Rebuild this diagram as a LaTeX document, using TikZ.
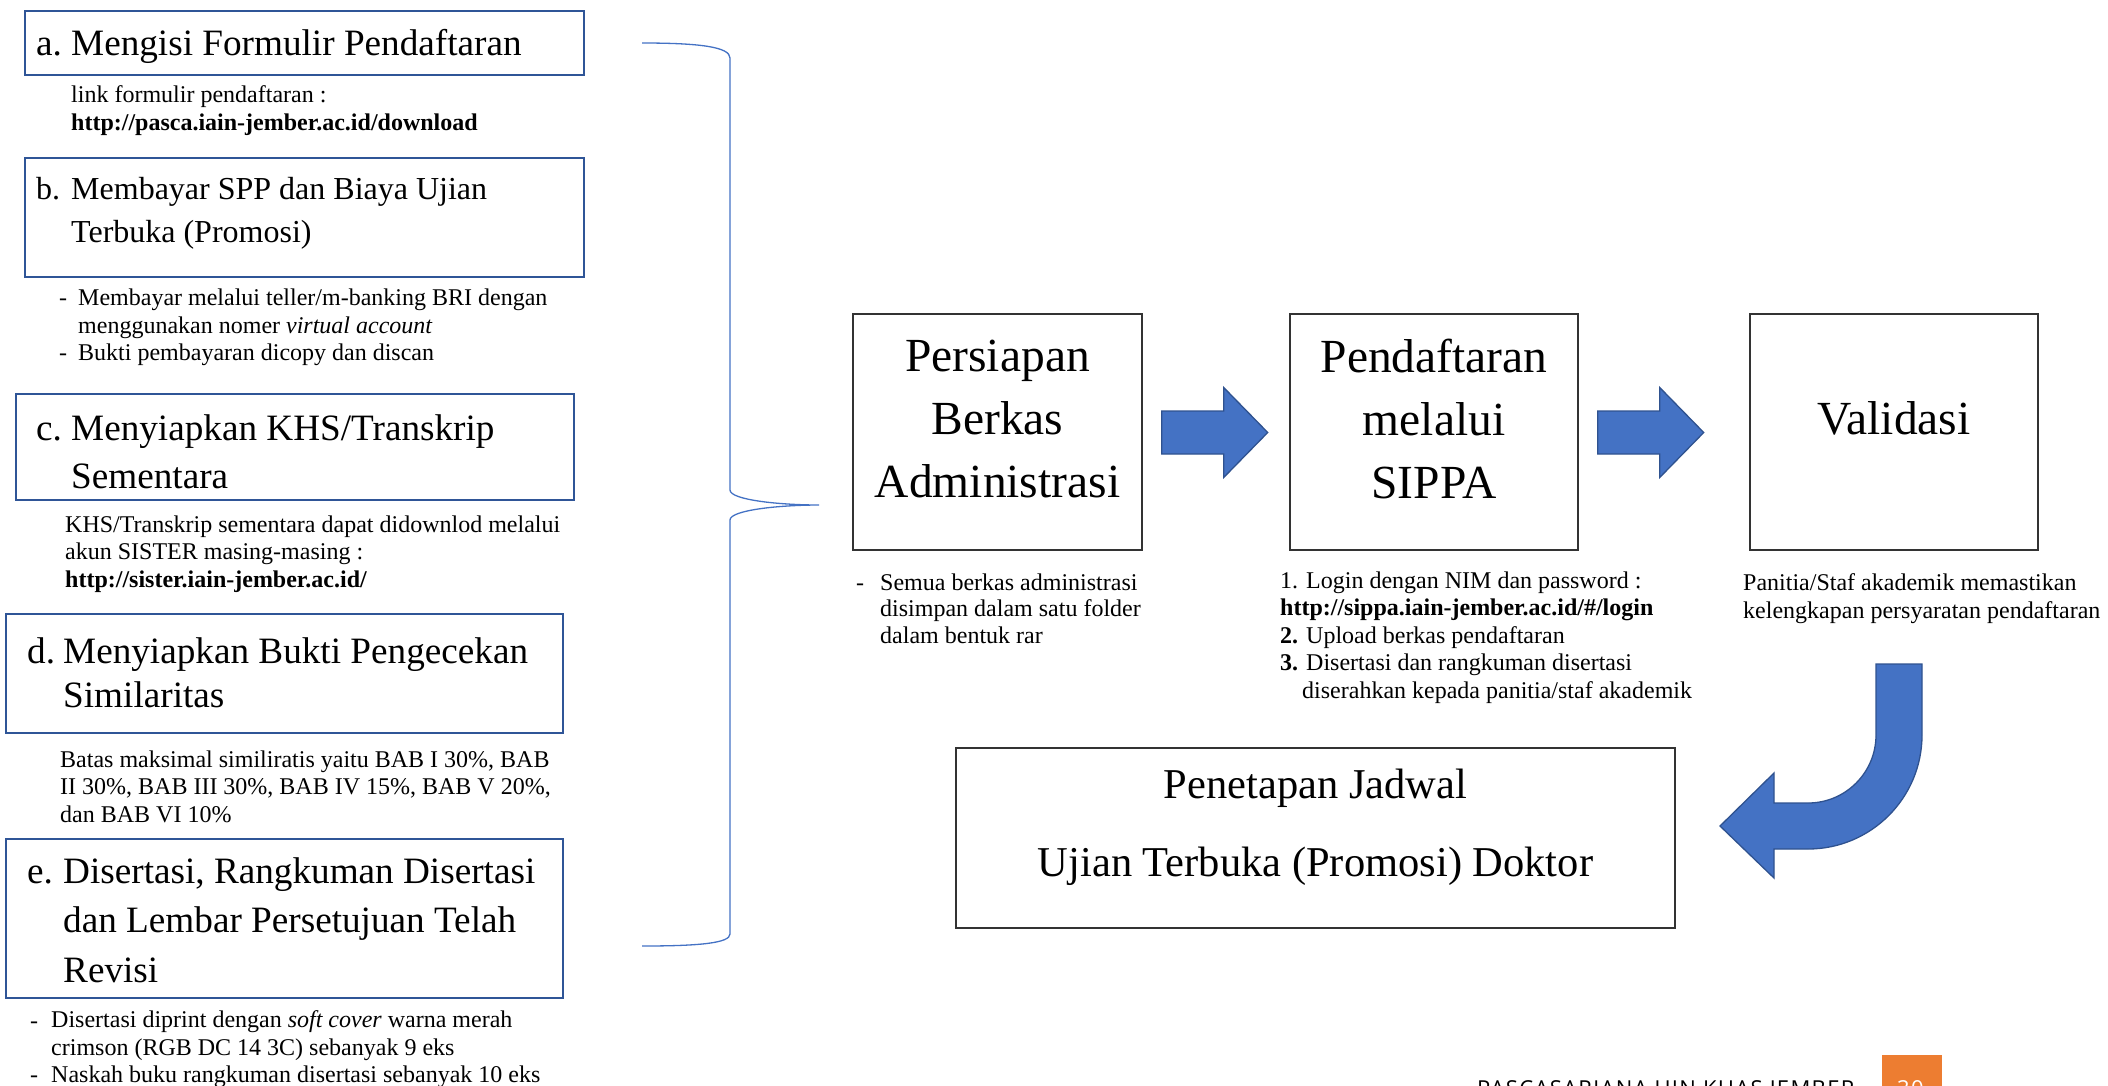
\documentclass[tikz,border=0pt]{standalone}
\usepackage{fontspec}
\setmainfont{Liberation Serif}
\newfontfamily\footfont[LetterSpace=6]{Open Sans}
\definecolor{officeblue}{HTML}{4472C4}
\definecolor{arrowedge}{HTML}{2F528F}
\definecolor{boxblue}{HTML}{2F5597}
\definecolor{footorange}{HTML}{ED7D31}
\newcommand{\listfont}[1][48]{\fontsize{37.2}{#1}\selectfont}
\newcommand{\notefont}[1][27.5]{\fontsize{24}{#1}\selectfont}
\newcommand{\stepfont}{\fontsize{47.5}{63}\selectfont}

\begin{document}
\begin{tikzpicture}[
    x=1pt, y=-1pt,
    listbox/.style={draw=boxblue, line width=2.2pt, anchor=north west, inner sep=0pt},
    listitem/.style={anchor=base west, inner sep=0pt, align=left, font=\listfont},
    note/.style={anchor=base west, inner sep=0pt, align=left, font=\notefont},
    stepbox/.style={draw=black!80, line width=1.4pt, inner sep=0pt},
    steptext/.style={anchor=base, inner sep=0pt, align=center, font=\stepfont},
    blockarrow/.style={fill=officeblue, draw=arrowedge, line width=1.3pt, line join=miter}
]
\useasboundingbox (0,0) rectangle (2108,1085);

% left column: requirements (multi-line texts sit on their last baseline)
\node[listbox, minimum width=559pt, minimum height=64pt] (boxa) at (24,10) {};
\node[listitem] (labela) at (36,55) {a.};
\node[listitem] (texta) at (71,55) {Mengisi Formulir Pendaftaran};
\node[note] (notea) at (71,130) {link formulir pendaftaran :\\\textbf{http://pasca.iain-jember.ac.id/download}};

\node[listbox, minimum width=559pt, minimum height=119pt] (boxb) at (24,157) {};
\node[listitem, font={\fontsize{32}{43}\selectfont}] (labelb) at (36,199) {b.};
\node[listitem, font={\fontsize{32}{43}\selectfont}] (textb) at (71,242) {Membayar SPP dan Biaya Ujian\\Terbuka (Promosi)};
\node[note] (dashb1) at (59,305) {-};
\node[note] (noteb1) at (78,333) {Membayar melalui teller/m-banking BRI dengan\\menggunakan nomer \textit{virtual account}};
\node[note] (dashb2) at (59,360) {-};
\node[note] (noteb2) at (78,360) {Bukti pembayaran dicopy dan discan};

\node[listbox, minimum width=558pt, minimum height=106pt] (boxc) at (15,393) {};
\node[listitem] (labelc) at (36,440) {c.};
\node[listitem] (textc) at (71,488) {Menyiapkan KHS/Transkrip\\Sementara};
\node[note] (notec) at (65,587) {KHS/Transkrip sementara dapat didownlod melalui\\akun SISTER masing-masing :\\\textbf{http://sister.iain-jember.ac.id/}};

\node[listbox, minimum width=557pt, minimum height=119pt] (boxd) at (5,613) {};
\node[listitem] (labeld) at (27,663) {d.};
\node[listitem, font={\listfont[44]}] (textd) at (63,707) {Menyiapkan Bukti Pengecekan\\Similaritas};
\node[note] (noted) at (60,822) {Batas maksimal similiratis yaitu BAB I 30\%, BAB\\II 30\%, BAB III 30\%, BAB IV 15\%, BAB V 20\%,\\dan BAB VI 10\%};

\node[listbox, minimum width=557pt, minimum height=159pt] (boxe) at (5,838) {};
\node[listitem] (labele) at (27,883) {e.};
\node[listitem, font={\listfont[49.5]}] (texte) at (63,982) {Disertasi, Rangkuman Disertasi\\dan Lembar Persetujuan Telah\\Revisi};
\node[note] (dashe1) at (30,1028) {-};
\node[note] (notee1) at (51,1055) {Disertasi diprint dengan \textit{soft cover} warna merah\\crimson (RGB DC 14 3C) sebanyak 9 eks};
\node[note] (dashe2) at (30,1082) {-};
\node[note] (notee2) at (51,1082) {Naskah buku rangkuman disertasi sebanyak 10 eks};

% brace
\draw[officeblue, line width=1.3pt] (642,43) .. controls (700,43) and (730,47) .. (730,58)
  -- (730,490) .. controls (730,500) and (780,505) .. (819,505)
  .. controls (780,505) and (730,510) .. (730,520)
  -- (730,934) .. controls (730,943) and (700,946) .. (642,946);

% right part: steps
\node[stepbox, minimum width=289pt, minimum height=236pt] (persiapan) at (997.5,432) {};
\node[steptext] (persiapantext) at ([yshift=-184pt]persiapan.north) {Persiapan\\Berkas\\Administrasi};
\node[stepbox, minimum width=288pt, minimum height=236pt] (pendaftaran) at (1434,432) {};
\node[steptext] (pendaftarantext) at ([yshift=-185pt]pendaftaran.north) {Pendaftaran\\melalui\\SIPPA};
\node[stepbox, minimum width=288pt, minimum height=236pt] (validasi) at (1894,432) {};
\node[steptext] (validasitext) at ([yshift=-121pt]validasi.north) {Validasi};
\node[stepbox, minimum width=719pt, minimum height=180pt] (penetapan) at (1315.5,838) {};
\node[steptext, font={\fontsize{42.5}{78}\selectfont}] (penetapantext) at ([yshift=-129pt]penetapan.north) {Penetapan Jadwal\\Ujian Terbuka (Promosi) Doktor};

\node[note] (dashp) at (856,590) {-};
\node[note, font={\notefont[26.5]}] (notepersiapan) at (880,643) {Semua berkas administrasi\\disimpan dalam satu folder\\dalam bentuk rar};
\node[note, font={\notefont[27.5]}] (notependaftaran) at (1280,698) {1. Login dengan NIM dan password :\\\textbf{http://sippa.iain-jember.ac.id/\#/login}\\\textbf{2.} Upload berkas pendaftaran\\\textbf{3.} Disertasi dan rangkuman disertasi\\\hspace*{22pt}diserahkan kepada panitia/staf akademik};
\node[note, font={\notefont[28]}] (notevalidasi) at (1743,618) {Panitia/Staf akademik memastikan\\kelengkapan persyaratan pendaftaran};

% block arrows
\foreach \from in {persiapan,pendaftaran}
  \draw[blockarrow] ([shift={(19,-21)}]\from.east) -- ++(62,0) -- ++(0,-23.5) -- ++(44,45)
    -- ++(-44,45) -- ++(0,-23.5) -- ++(-62,0) -- cycle;

\draw[blockarrow] (1876,664) -- (1922,664) -- (1922,735) arc[start angle=0, end angle=90, radius=114]
  -- (1774,849) -- (1774,878) -- (1720,826) -- (1774,773) -- (1774,803) -- (1808,803)
  arc[start angle=90, end angle=0, radius=68] -- cycle;

% footer
\node[anchor=base west, inner sep=0pt, font={\footfont\fontsize{22}{22}\selectfont}] (footer) at (1477,1096) {PASCASARJANA UIN KHAS JEMBER};
\node[fill=footorange, minimum width=60pt, minimum height=60pt, anchor=north west, inner sep=0pt] (pagebox) at (1882,1055) {};
\node[anchor=base west, inner sep=0pt, text=white, font={\footfont\fontsize{22}{22}\selectfont}] (pagenum) at (1897,1096) {30};
\end{tikzpicture}
\end{document}
